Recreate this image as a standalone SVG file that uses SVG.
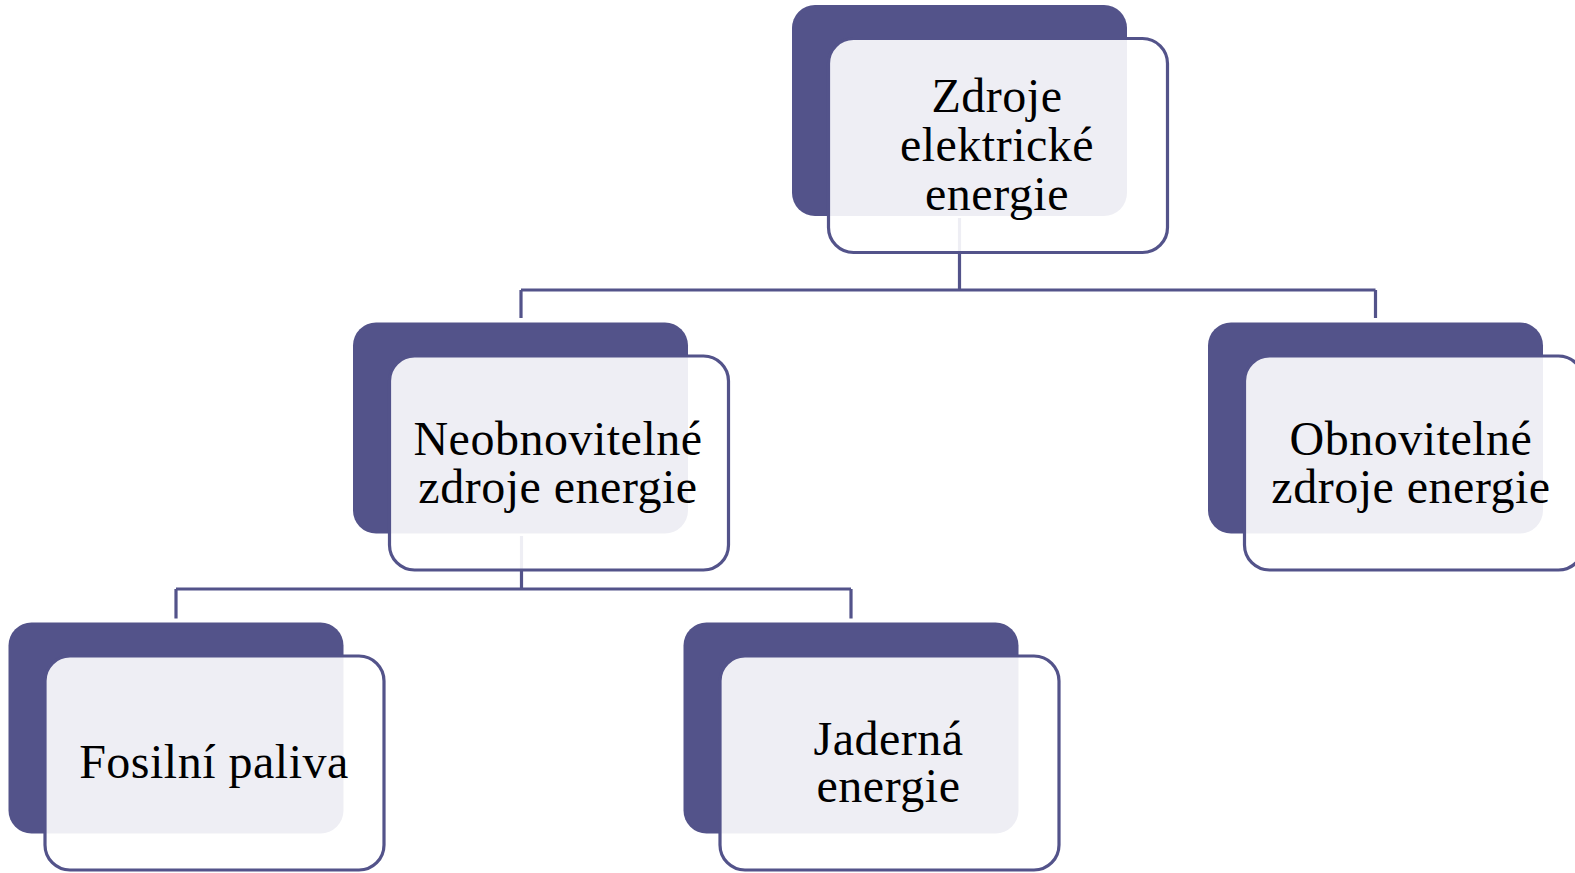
<svg xmlns="http://www.w3.org/2000/svg" width="1575" height="873" viewBox="0 0 1575 873">
<style>
.back{fill:#53538a;}
.front{fill:#ffffff;fill-opacity:0.9;stroke:#53538a;stroke-width:3.2;}
.conn{fill:none;stroke:#53538a;stroke-width:3.2;}
.lbl{font-family:"Liberation Serif","Times New Roman",serif;font-size:48px;fill:#000000;text-anchor:middle;letter-spacing:0.5px;}
</style>
<rect width="1575" height="873" fill="#ffffff"/>
<g id="connectors">
<path class="conn" d="M959.5,218 V290 M521,290 H1375.5 M521,290 V318 M1375.5,290 V318"/>
<path class="conn" d="M521.5,536 V589 M176,589 H851 M176,589 V618.5 M851,589 V618.5"/>
</g>
<g id="node-root">
<rect class="back" x="792" y="5" width="335" height="211" rx="23"/>
<rect class="front" x="828.5" y="38.5" width="339" height="214" rx="25"/>
<text class="lbl" x="997" y="111.5">Zdroje</text>
<text class="lbl" x="997" y="161">elektrické</text>
<text class="lbl" x="997" y="210">energie</text>
</g>
<g id="node-neobnovitelne">
<rect class="back" x="353" y="322.5" width="335" height="211" rx="23"/>
<rect class="front" x="389.5" y="356" width="339" height="214" rx="25"/>
<text class="lbl" x="558" y="455">Neobnovitelné</text>
<text class="lbl" x="558" y="502.5">zdroje energie</text>
</g>
<g id="node-obnovitelne">
<rect class="back" x="1208" y="322.5" width="335" height="211" rx="23"/>
<rect class="front" x="1244.5" y="356" width="339" height="214" rx="25"/>
<text class="lbl" x="1411" y="455">Obnovitelné</text>
<text class="lbl" x="1411" y="502.5">zdroje energie</text>
</g>
<g id="node-fosilni">
<rect class="back" x="8.5" y="622.5" width="335" height="211" rx="23"/>
<rect class="front" x="45" y="656" width="339" height="214" rx="25"/>
<text class="lbl" x="214" y="778">Fosilní paliva</text>
</g>
<g id="node-jaderna">
<rect class="back" x="683.5" y="622.5" width="335" height="211" rx="23"/>
<rect class="front" x="720" y="656" width="339" height="214" rx="25"/>
<text class="lbl" x="888.5" y="755">Jaderná</text>
<text class="lbl" x="888.5" y="801.5">energie</text>
</g>
</svg>
